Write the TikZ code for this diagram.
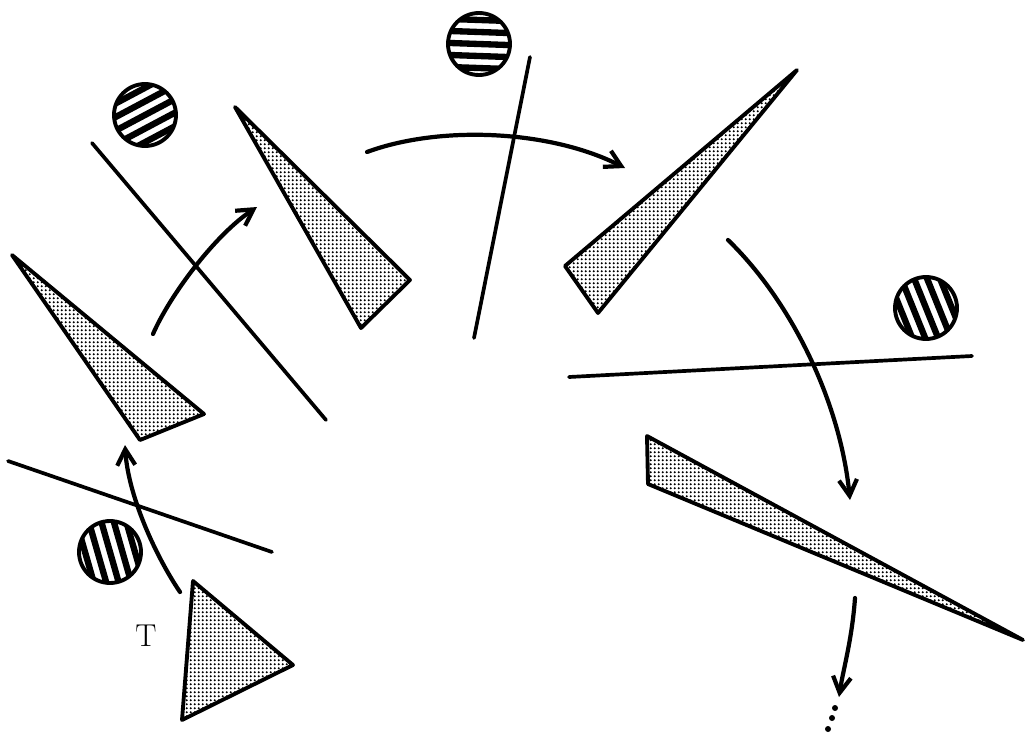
\documentclass[tikz,border=0pt]{standalone}
\usepackage{tikz}
\usetikzlibrary{arrows.meta,patterns.meta,calc}

\tikzdeclarepattern{
  name=stipple,
  parameters={},
  bounding box={(0,0) and (2.4pt,2.4pt)},
  tile size={(2.4pt,2.4pt)},
  code={\fill (1.2pt,1.2pt) circle (0.72pt);}
}

\tikzset{
  wedge/.style={draw, line width=2.2pt, line join=round, pattern=stipple},
  mirror/.style={line width=2.1pt, line cap=round},
  ray/.style={line width=2.4pt, line cap=round,
              -{Straight Barb[length=3.2mm,width=3.6mm]}},
}

% striped ball: centre x, centre y, angle of the stripes
\newcommand{\hball}[3]{%
  \begin{scope}[shift={(#1,#2)}]
    \begin{scope}
      \clip (0,0) circle[radius=0.62cm];
      \foreach \s in {-24,-12,...,24}
        \draw[line width=3.6pt, rotate=#3] (-40,\s) -- (40,\s);
    \end{scope}
    \draw[line width=2.2pt] (0,0) circle[radius=0.62cm];
  \end{scope}}

\begin{document}
\begin{tikzpicture}[x=0.02cm, y=-0.02cm]
  \useasboundingbox (0,0) rectangle (1027,734);
  % the start: T
  \draw[wedge] (193,581) -- (293,665) -- (182,720) -- cycle;
  \node[font=\fontsize{18}{20}\selectfont] (tlab) at (146,636) {T};
  \hball{110}{552}{106}
  \draw[mirror] (8,461) -- (272,552);
  \coordinate (r1a) at (180,592);
  \coordinate (r1b) at (125,445);
  \draw[ray] (r1a) .. controls (155,555) and (128,495) .. (r1b);
  % second
  \draw[wedge] (12,255) -- (204,414) -- (140,440) -- cycle;
  \hball{145}{115}{28}
  \draw[mirror] (92,143) -- (326,420);
  \coordinate (r2a) at (153,334);
  \coordinate (r2b) at (257,207);
  \draw[ray] (r2a) .. controls (170,295) and (215,235) .. (r2b);
  % third
  \draw[wedge] (235,107) -- (410,280) -- (361,328) -- cycle;
  \hball{479}{44}{-2}
  \draw[mirror] (530,57) -- (474,338);
  \coordinate (r3a) at (367,152);
  \coordinate (r3b) at (625,168);
  \draw[ray] (r3a) .. controls (440,125) and (550,130) .. (r3b);
  % fourth
  \draw[wedge] (797,70) -- (565,266) -- (598,313) -- cycle;
  \hball{926}{308}{112}
  \draw[mirror] (569,377) -- (972,356);
  \coordinate (r4a) at (728,240);
  \coordinate (r4b) at (850,500);
  \draw[ray] (r4a) .. controls (790,300) and (840,400) .. (r4b);
  % fifth
  \draw[wedge] (647,436) -- (1023,640) -- (648,484) -- cycle;
  \coordinate (r5a) at (855,598);
  \coordinate (r5b) at (839,697);
  \draw[ray] (r5a) .. controls (852,640) and (843,670) .. (r5b);
  \foreach \p in {(835,708),(832,718),(828,729)}
    \fill \p circle[radius=0.06cm];
\end{tikzpicture}
\end{document}
